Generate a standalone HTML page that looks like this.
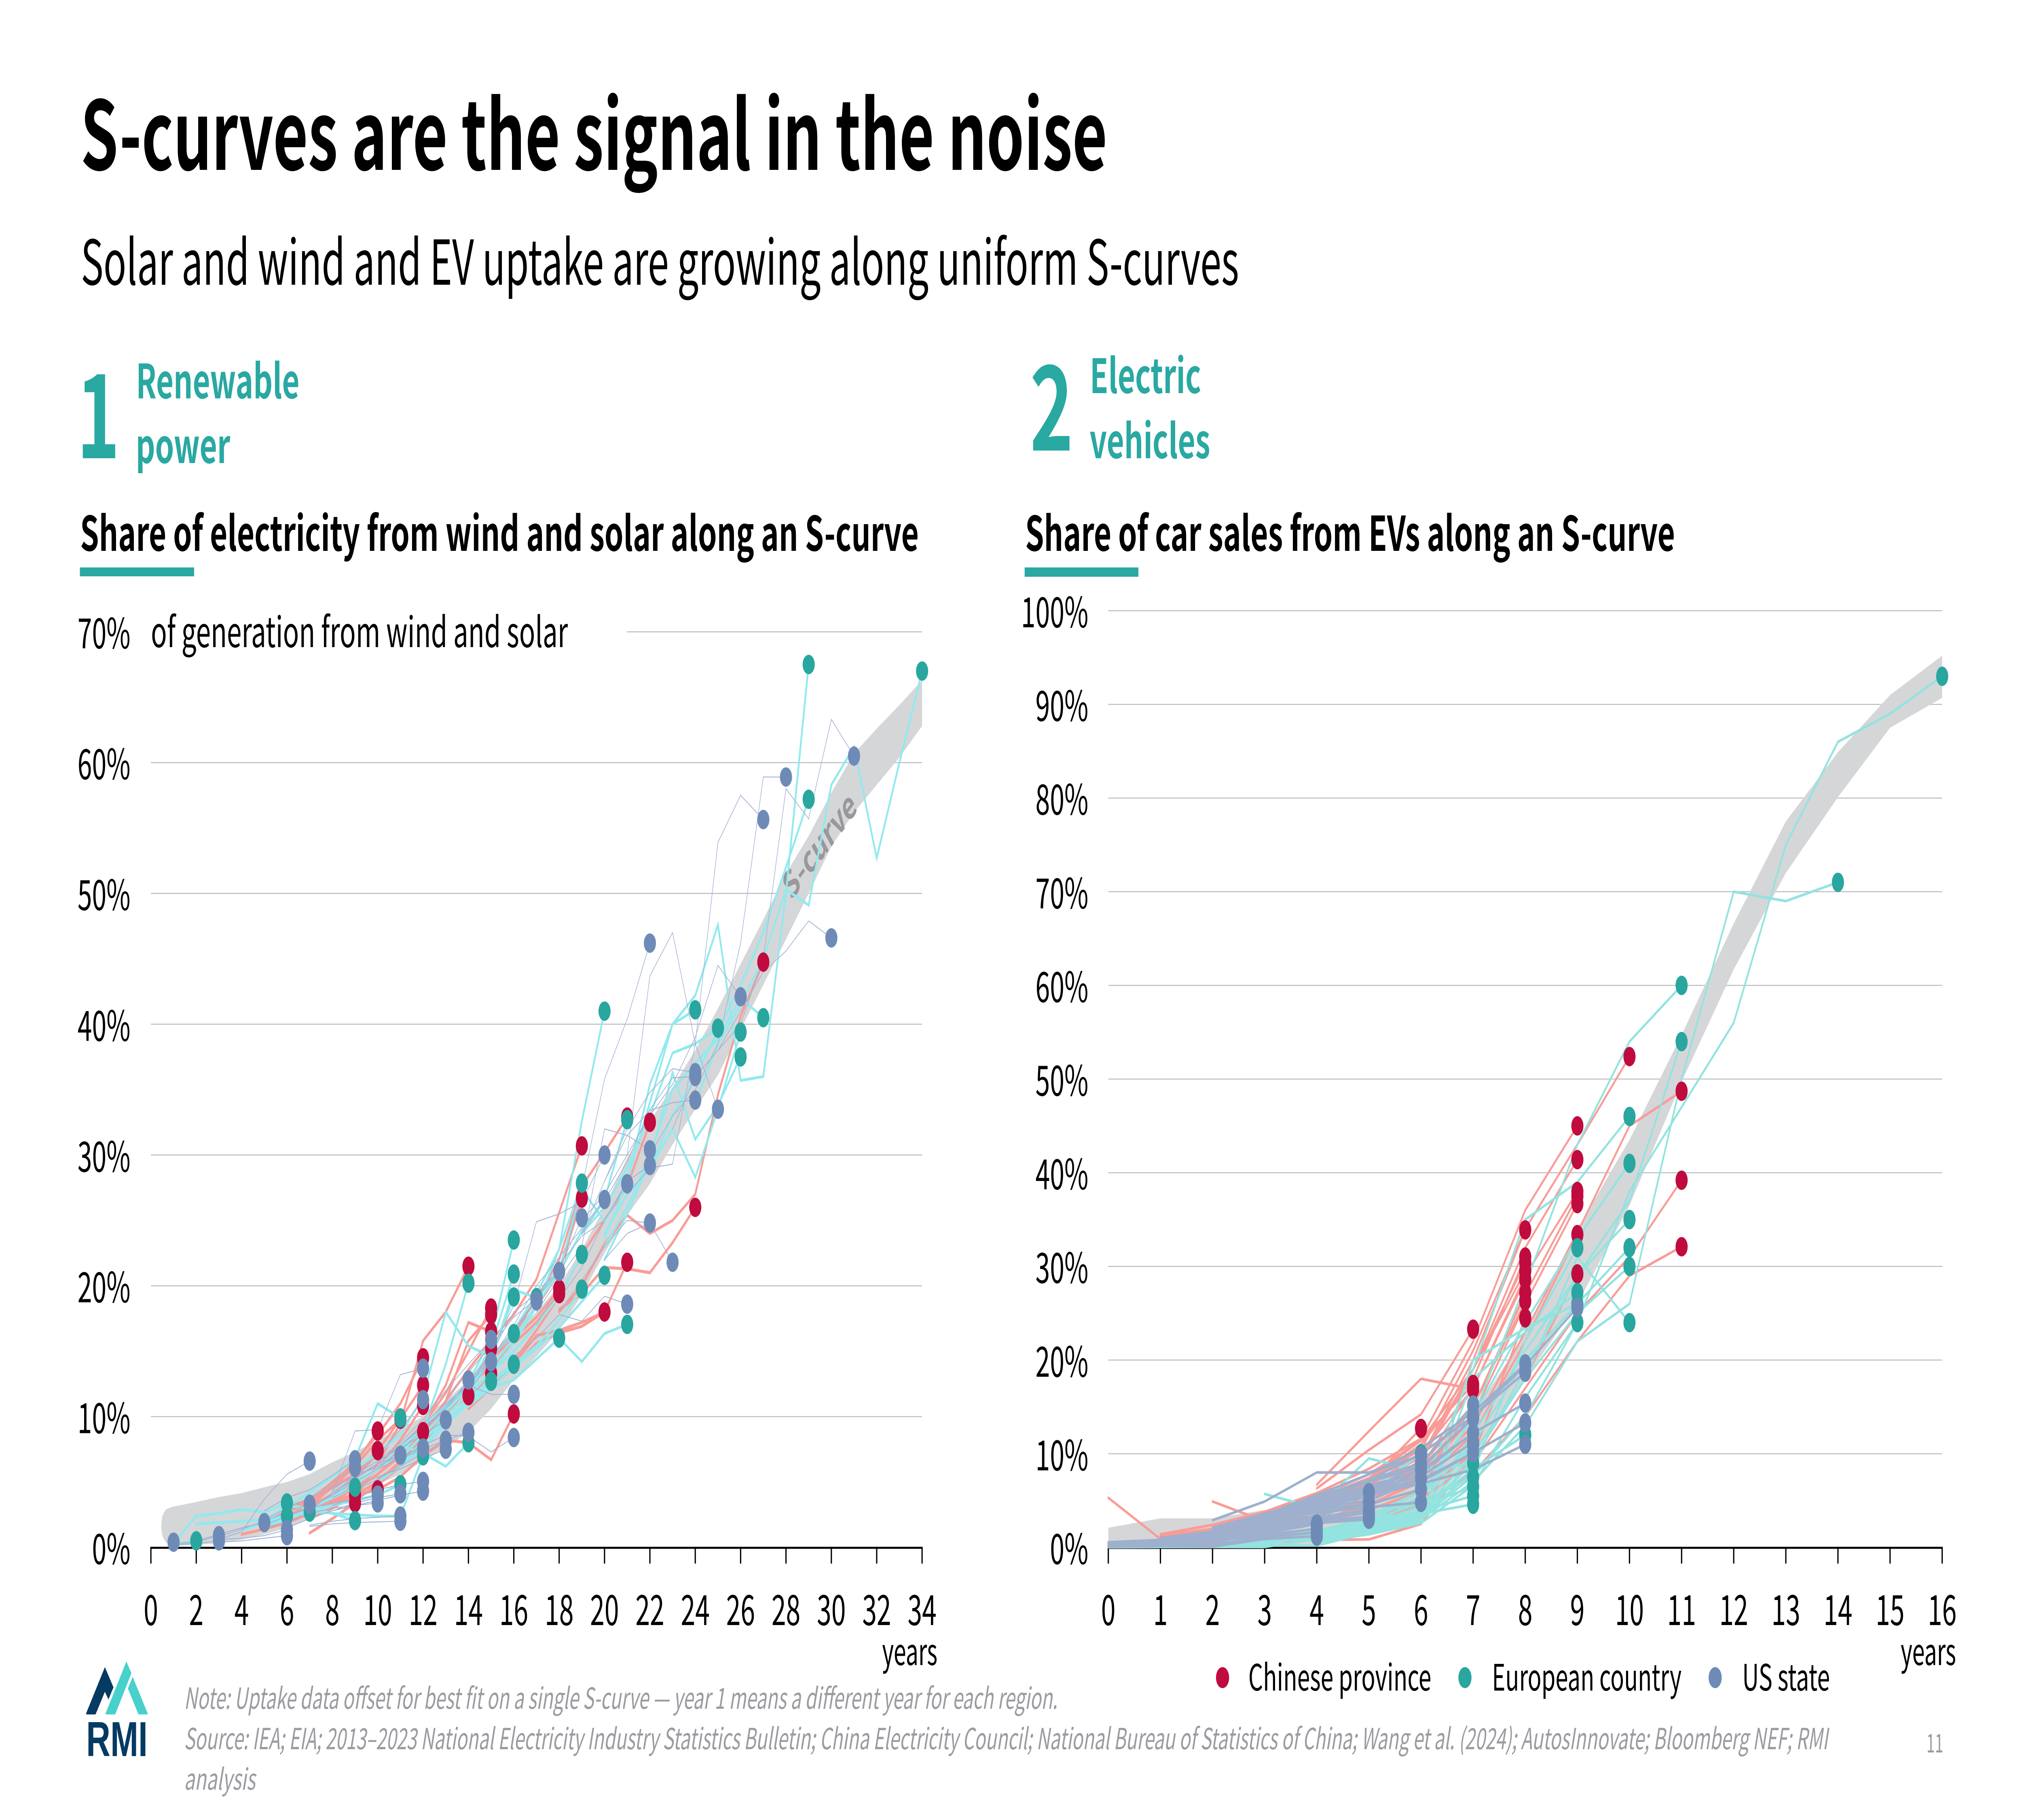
<!DOCTYPE html>
<html lang="en">
<head>
<meta charset="utf-8">
<title>S-curves are the signal in the noise</title>
<style>
html,body{margin:0;padding:0;background:#fff;width:100%;height:100%;overflow:hidden}
svg{display:block;width:100vw;height:100vh}
text{font-family:"Noto Sans CJK SC","Liberation Sans",sans-serif;fill:#000}
.teal{fill:#2aa8a2}
.bold{font-weight:700}
.grey{fill:#9b9ca1}
.ital{font-style:italic}
</style>
</head>
<body>
<svg id="slide" xmlns="http://www.w3.org/2000/svg" viewBox="0 0 8000 4500" preserveAspectRatio="none">
  <rect x="0" y="0" width="8000" height="4500" fill="#ffffff"/>
  <text class="bold" x="319" y="420" font-size="235" textLength="4062" lengthAdjust="spacingAndGlyphs">S-curves are the signal in the noise</text>
  <text x="320" y="704" font-size="153" textLength="4582" lengthAdjust="spacingAndGlyphs">Solar and wind and EV uptake are growing along uniform S-curves</text>

  <text class="teal bold" x="304" y="1133" font-size="288">1</text>
  <text class="teal bold" x="538" y="985" font-size="117" textLength="647" lengthAdjust="spacingAndGlyphs">Renewable</text>
  <text class="teal bold" x="537" y="1145" font-size="117" textLength="374" lengthAdjust="spacingAndGlyphs">power</text>
  <text class="bold" x="317" y="1362" font-size="118" textLength="3318" lengthAdjust="spacingAndGlyphs">Share of electricity from wind and solar along an S-curve</text>
  <rect x="316" y="1403" width="452" height="22" fill="#2aa8a2"/>

  <text class="teal bold" x="4075" y="1114" font-size="290">2</text>
  <text class="teal bold" x="4312" y="972" font-size="117" textLength="440" lengthAdjust="spacingAndGlyphs">Electric</text>
  <text class="teal bold" x="4311" y="1133" font-size="117" textLength="477" lengthAdjust="spacingAndGlyphs">vehicles</text>
  <text class="bold" x="4056" y="1362" font-size="118" textLength="2571" lengthAdjust="spacingAndGlyphs">Share of car sales from EVs along an S-curve</text>
  <rect x="4054" y="1403" width="450" height="23" fill="#2aa8a2"/>

  <text x="597" y="1600" font-size="103" textLength="1650" lengthAdjust="spacingAndGlyphs">of generation from wind and solar</text>

  <g id="chart-left"></g>
  <g id="chart-right"></g>

  <text x="3490" y="4117" font-size="91" textLength="219" lengthAdjust="spacingAndGlyphs">years</text>
  <text x="7520" y="4117" font-size="91" textLength="219" lengthAdjust="spacingAndGlyphs">years</text>

  <g>
    <circle cx="4837" cy="4148" r="26" fill="#c00b3f"/>
    <text x="4939" y="4180" font-size="90" textLength="724" lengthAdjust="spacingAndGlyphs">Chinese province</text>
    <circle cx="5796" cy="4148" r="26" fill="#29a69f"/>
    <text x="5903" y="4180" font-size="90" textLength="750" lengthAdjust="spacingAndGlyphs">European country</text>
    <circle cx="6786" cy="4148" r="26" fill="#6e8bb8"/>
    <text x="6893" y="4180" font-size="90" textLength="347" lengthAdjust="spacingAndGlyphs">US state</text>
  </g>

  <g>
    <polygon points="341,4236 415,4122 449,4172 429,4202 415,4183 378,4239 341,4239" fill="#053a63"/>
    <polygon points="418,4236 500,4108 520,4137 456,4239 418,4239" fill="#48d1cc"/>
    <polygon points="525,4146 584,4236 584,4239 548,4239 506,4175" fill="#48d1cc"/>
    <text x="341" y="4342" font-size="122" textLength="243" lengthAdjust="spacingAndGlyphs" style="font-family:'Liberation Sans',sans-serif;font-weight:700;fill:#053a63">RMI</text>
  </g>

  <text class="grey ital" x="728" y="4225" font-size="72" textLength="3456" lengthAdjust="spacingAndGlyphs">Note: Uptake data offset for best fit on a single S-curve — year 1 means a different year for each region.</text>
  <text class="grey ital" x="728" y="4325" font-size="72" textLength="6504" lengthAdjust="spacingAndGlyphs">Source: IEA; EIA; 2013–2023 National Electricity Industry Statistics Bulletin; China Electricity Council; National Bureau of Statistics of China; Wang et al. (2024); AutosInnovate; Bloomberg NEF; RMI</text>
  <text class="grey ital" x="728" y="4425" font-size="72" textLength="282" lengthAdjust="spacingAndGlyphs">analysis</text>
  <text class="grey" x="7622" y="4333" font-size="64" textLength="67" lengthAdjust="spacingAndGlyphs">11</text>
</svg>

<script>
/* ---------- chart 1: share of electricity from wind and solar ---------- */
const leftXTicks = [0,2,4,6,8,10,12,14,16,18,20,22,24,26,28,30,32,34];
const leftYTicks = [0,10,20,30,40,50,60,70];
const leftBandYears = [0.45,0.5,0.65,0.93,2,3,4,5,6,7,8,9,10,11,12,13,14,15,16,17,18,19,20,21,22,23,24,25,26,27,28,29,30,31,32,33,34];
const leftBandUpper = [1.6,2.4,2.9,3.1,3.47,3.85,4.15,4.6,5,5.6,6.5,7.3,8.2,9.1,10,11.2,12.8,14.5,16.4,18,20,22.8,26,29.8,32.6,35.2,38,41.2,44.6,48,51.5,54.4,57.7,60.7,62.6,64.4,66.3];
const leftBandLower = [1.6,0.9,0.4,0.1,0.2,0.3,0.6,1,1.5,2.2,3,3.8,4.8,5.6,6.6,7.6,8.8,10.6,12.8,14.6,16.6,19.3,22.5,25.4,27.8,30.8,33.5,36.1,39.6,43,46.5,50,53.6,56.2,58.3,60.4,62.8];
/* each series: first item is the start year, the rest are yearly % values; the last value carries the dot */
const leftChinaSeries = [
[4,1.0,1.4,1.9,2.6,3.4,4.0],[7,1.1,2.2,3.4],[5,1.6,2.3,3.0,3.6,4.0,4.4],[5,1.8,2.8,3.4,5.0,6.4,8.9],
[6,3.0,3.6,4.6,5.6,7.4],[6,2.4,3.2,4.6,6.2,8.2,9.8],[6,3.1,3.6,4.8,6.6,8.6,11.0,14.5],[7,3.2,4.0,5.2,7.4,9.8,12.4],
[7,2.6,3.4,4.6,6.0,8.2,10.85],[7,2.2,3.0,4.0,5.0,6.6,8.85],[9,3.8,6.4,9.5,15.8,18.0,21.5],[8,3.6,4.8,6.0,7.4,8.8,10.2,11.6],
[9,4.4,5.6,7,8.8,11.2,15.8,17.8],[9,4.6,6,7.6,9.4,12.4,17.2,16.5],[10,5.2,6.4,8,10,12.4,15.2],[9,3.6,4.8,6.2,7.6,9.4,11.4,13.3],
[10,5.6,7.4,9.4,11.8,15,18.3],[10,4.4,5.4,7,8.2,8,6.7,10.2],[11,6.4,8.4,10.4,12.6,14.4,16,17.6,19.75],[11,6.8,8.8,10.6,12.4,13.8,15.6,17.2,19.4],
[12,8.8,11.2,13.6,15.8,17.8,20.5,25.6,30.7],[12,8.2,10.6,12.6,14.6,16.4,18.4,21,26.7],[14,12.4,14.6,16.4,19,22,27.6,30.2,32.9],
[14,10.6,12.2,13.8,15.6,16.4,16.9,18,21.8],[15,12.4,14,16.2,16.6,17.2,18],[16,14.2,16.6,19.2,22.4,25,27.6,32.5],
[18,18.2,19.4,21.4,21.3,21,23.3,26],[18,18,20,23.2,25.4,24,25,27,34.6,40.6,44.75]
];
const leftEuropeSeries = [
[1,.3,2.4,2.6,2.9,2.7,3.4],[1,.2,.5],[2,1.8,1.9,2.0,2.1,2.4],[4,1.3,1.9,2.3,2.7],[5,2.0,3.2,3.0,2.6,2.05],[5,1.6,2.2,3,3.8,4.6],
[6,3.1,4.2,5.4,6.8,11,9.9],[7,2.8,3.2,3.6,4.0,4.8],[7,2.8,2.6,2.5,2.4,2.4,7.0],[8,4,5,6,7.2,9,14,20.2],[9,6,7.2,8.6,11.5,18,15.4,14.6,16.35],
[9,4.8,6,7.8,7.2,6.2,8],[10,5,6.2,7.6,9.4,11,12.7],[11,7.6,9.2,10.8,12.6,16,23.5],[11,6.8,8.6,10.4,12.2,15.4,20.9],[11,6.2,8.2,10,11.8,14.4,19.15],
[12,7.8,9.6,11.2,12.6,14],[12,8.6,10.4,12.2,14.4,19.7,19.1],[12,8.2,9.8,11,12.2,12.8,14.4,16],[13,10.6,12.4,14.4,16.6,19.4,22.8,27.85],
[13,10,11.8,13.4,15,17,19.2,22.4],[13,9.6,11.4,12.8,14,15.4,17.4,19.75],[14,11.6,13.4,15.6,18.4,22.8,32.6,41],[14,10.8,12.2,13.8,15.2,16.8,18.8,20.8],
[16,12.8,14.4,16,14.2,16.35,17.05],[15,13.8,16,18.6,21,24.2,26.6,32.7],[17,19,21.2,27.4,24.9,28,35.4,40,41.1],[19,24,26,29,33,37.8,38.5,39.7],
[20,24,27,29,32,28.3,33.5,39.4],[20,22,25.5,29.5,36.3,31.2,33.8,37.5],[20,23,26,30,35,37,38.9,42,40.5],[20,23.6,28,34,40,42.2,47.6,35.7,36,50,67.5],
[22,29,33,36,39.5,43,47,52,57.2],[24,34,38.5,41.5,45,50.3,49.1,58.3,61.2,52.7,60,67]
];
const leftUsSeries = [
[1,.4],[1,.3,.4,.9],[1,.2,.3,.5],[2,.5,1.0,1.5,1.9],[3,.6,.7,.9,1.35],[3,.4,.5,.7,.9],[3,.6,1.2,3.7,5.6,6.6],[3,.8,1.4,2,2.7,3.3],[5,2.8,3.8,4.4,5.5,6.7],
[5,2.1,3,3.8,5,6.1],[5,1.7,2.4,3,3.4,3.6,4],[5,1.4,2,2.6,3,3.2,3.4],[6,3,3.8,4.6,5.4,6.2,7.05],[6,1.5,2.2,2.8,3.4,3.8,4.1],[7,1.7,2,2.2,2.3,2.4],[7,1.6,1.8,1.9,1.95,2],
[7,2.8,4.2,8.9,9,13.2,13.7],[7,3,4,5.4,7,9,11.3],[8,4.2,5.4,6.4,7,7.6],[8,3.2,3.8,4.4,4.8,5.05],[8,2.8,3.2,3.6,4,4.3],[8,4.4,5.6,6.6,7.6,8.6,9.75],[8,4,5,6,6.8,7.5,8.2],[8,3.8,4.6,5.4,6,6.8,7.5],
[9,5.2,6.4,7.8,9.2,10.6,12.8],[9,4.4,5.2,6.2,7.2,8.2,8.8],[10,6.6,8,9.8,12,14,15.9],[10,6,7.4,9,10.8,12.6,14.2],[11,7.8,9.4,11,12.4,11.7,11.7],[11,6.8,7.8,8.6,8.5,7.3,8.4],
[12,9,10.6,12.4,14.4,16.4,18.85],[13,11.4,13.4,15.4,17.6,19,21.1],[13,10.8,12.6,14.8,18,19.4,21.2,25.2],[14,12.2,15,18.5,24.9,25.5,26.4,30],[14,11.8,14.4,17,20,22.2,24.4,26.6],
[15,14.6,16.6,19,21.6,23.8,25,27.8],[16,14.6,16,17.8,17.3,19.2,18.6],[17,17,20,27.5,35.8,40.4,46.2],[17,18,20.6,23,32,31.5,30.4],[18,19,21.4,25,28,29.2],[18,18,20.4,23,25,24.8],[20,22,24,24.8,21.8],
[19,25,27,30,43.7,47,38.5,33.5],[19,24,28,32,34.8,36.6,36.3],[19,24,26.5,29.5,33.5,35.9,36],[20,28,31.5,33.4,34,34.2],[21,30,33,35.4,39,44.5,42.1],[21,27,29,29.3,38.5,53.9,57.5,55.65],
[22,30,33,35,38.5,46.2,58.9,58.9],[23,32,36,38,41,44,45.6,47.9,46.6],[24,36,38,40,45,58,55.7,63.3,60.5]
];

/* ---------- chart 2: share of car sales from EVs ---------- */
const rightXTicks = [0,1,2,3,4,5,6,7,8,9,10,11,12,13,14,15,16];
const rightYTicks = [0,10,20,30,40,50,60,70,80,90,100];
const rightBandYears = [0,1,2,3,4,5,6,7,8,9,10,11,12,13,14,15,16];
const rightBandUpper = [2.1,3.1,3.1,4,4.7,6.3,8.7,14.2,22.8,34,43.5,54.7,66.6,77.5,84.9,91,95.2];
const rightBandLower = [-.2,-.2,-.2,-.2,.2,2,3.9,9.7,18,26,36.5,49.7,61.7,72,80.1,87.5,90.7];
const rightChinaSeries = [
[0,5.3,.9,1.4,2.2,3.4,5,7.4,15,26.3],[2,4.9,2.8,4.2,7,12.7],[4,6.7,12.4,18,16.9],[4,6.3,10.4,14.2,23.3],[1,1.4,2.4,3.8,5.4,7.8,11.4,17.4],
[1,1.2,2,3.4,4.8,7,11,18,31],[1,1,1.8,2.8,4.2,6.2,9.8,19,30.4],[2,2.4,3.6,5.2,7.4,11.4,19,29.5],[2,2.2,3.2,4.6,6.6,10,17,28.6],[2,1.6,2.4,4,5.8,8.8,15,27.2],
[3,.6,.8,.85,2.5,9.8,24.5],[3,3.8,5.8,8.4,11.6,22,36,45],[3,3.2,5,7.4,10.4,21,34,43,52.4],[3,3,4.6,6.8,9.6,20,33.9],[3,2.6,4.2,6.4,9.2,19,32,41.4],
[3,2.4,3.8,6,8.6,17,29,38],[3,2.2,3.4,5.6,8,15,27,37.5],[3,2,3.2,5.2,7.6,14,26,36.7],[4,2.8,4.6,7,12,22,33.4],[4,2.4,4,6,10,18,29.2],
[4,2.6,4.4,7.4,13,23,33.6,45,48.7],[5,3,5.2,9,17,25,31,39.2],[5,2.6,4.6,8,14,22,29,32.1]
];
const rightEuropeSeries = [
[3,5.7,4.2,9.5,8.1,9],[0,.1,.15,.2,.7,.9,1.4,3.6,4.6],[0,.1,.2,.3,.8,1.1,2,3.9,5.5],[0,.05,.15,.25,.5,1.1,2.4,4.4,6.5],[0,.15,.2,.3,.6,1.3,2.8,4.8,7.5],
[0,.03,.05,.05,.05,.9,2,5.6,14],[0,.2,.25,.4,.3,1.5,3.4,6,11],[1,.1,.05,.2,.2,1.6,3.8,8.4,12],[1,.3,.6,1.2,3,6,10],[3,1,1.8,3,6,19,35,39,46],
[4,1.2,2.6,5,14,24,33,41],[4,1,2.2,4.4,12,21,29,35],[4,.9,2,4,11,20,26,32],[4,.8,1.8,3.6,10,18,25,30],[4,.7,1.6,3.4,9.4,18,31,24],
[4,.9,1.8,3.4,8,22,32],[4,.8,1.6,3,18,23,27.2],[4,.7,1.5,2.8,20,23.4,26],[4,.6,1.4,2.6,6.6,16,24],[3,.8,1.6,3,5.4,14,28,43,54,60],
[4,.9,2,3.6,9,19,29,37,54],[4,.7,1.6,3,7,13,22,26,50,70,69,71],[4,.8,1.8,3.2,7.6,14,24,38,47,56,75,86,89,93]
];
const rightUsSeries = [
[0,.1,.15,.1,.9,1.2],[0,.2,.25,.3,1.1,1.6],[0,.3,.4,.7,1.3,2],[0,.4,.5,.9,1.5,2.5],[0,.15,.3,.5,1.7,2.6,3],[0,.25,.35,.8,1.9,2.8,3.3],[0,.35,.45,1,2.1,3,3.7],[0,.45,.6,1.1,2.3,3.2,4],
[1,.5,1.2,2.5,3.4,4.8],[1,.6,1.3,2.7,3.8,5.85],[0,.5,.7,1.4,2.9,3.7,4.3,4.8],[0,.55,.8,1.5,3,4,4.6,6.2],[1,.9,1.6,3.1,4.2,5,7.4],[1,1,1.7,3.2,4.4,5.4,8.3],[2,1.8,3.3,4.6,6,9],[2,2.9,4.9,8,8,9.8],
[2,1.9,3.4,4.7,5.8,7,10.1],[2,2,3.5,4.8,6.2,7.6,11.2],[2,2.1,3.6,5,6.6,8,12.2],[2,1.7,3.2,5.2,7,8.6,13.8],[3,3.6,5.2,7.2,9,15.2],[3,3,4.4,5.6,6.8,8.3,11],[3,3.1,4.6,6,7.2,10.1,13.3],[3,3.3,5,6.4,8.2,12.2,15.4],
[3,3.4,5.4,7.2,10,14,18.7],[3,3.5,5.6,7.8,10.6,14.4,19.6],[4,4,6,8.4,14,19.4,25.6]
];

const NS = 'http://www.w3.org/2000/svg';
function mk(parent, tag, attrs, txt) {
  const el = document.createElementNS(NS, tag);
  for (const k in attrs) el.setAttribute(k, attrs[k]);
  if (txt !== undefined) el.textContent = txt;
  parent.appendChild(el);
  return el;
}
function pts(xs, ys, sx, sy) { return xs.map((x, i) => sx(x).toFixed(1) + ',' + sy(ys[i]).toFixed(1)).join(' '); }

function drawSeries(g, list, sx, sy, color, width, lineName) {
  list.forEach(s => {
    const vals = s.slice(1);
    const years = vals.map((_, i) => s[0] + i);
    if (vals.length > 1) {
      const el = mk(g, 'polyline', {points: pts(years, vals, sx, sy), fill: 'none', stroke: color, 'stroke-width': width, 'stroke-linecap': 'round', 'stroke-linejoin': 'miter'});
      
      
    }
  });
}
function drawDots(g, list, sx, sy, color, dotName) {
  list.forEach(s => {
    const lastIndex = s.length - 2;
    const el = mk(g, 'circle', {cx: sx(s[0] + lastIndex).toFixed(1), cy: sy(s[s.length - 1]).toFixed(1), r: 24, fill: color});
    
    
  });
}
function drawAxes(g, sx, sy, xTicks, yTicks, x0, x1, labelRight, gridStartTop) {
  yTicks.forEach((v, i) => {
    if (v > 0) {
      const start = (i === yTicks.length - 1 && gridStartTop) ? gridStartTop : x0;
      const grid = mk(g, 'line', {x1: start, x2: x1, y1: sy(v), y2: sy(v), stroke: '#bdbdbf', 'stroke-width': 2.5});
      
      
    }
    const lab = mk(g, 'text', {x: labelRight, y: sy(v) + 41, 'font-size': 103, 'text-anchor': 'end'}, v + '%');
    
    
  });
}
function drawXAxis(g, sx, axisY, xTicks, x0, x1) {
  const ax = mk(g, 'line', {x1: x0 - 2.5, x2: x1 + 2.5, y1: axisY, y2: axisY, stroke: '#000', 'stroke-width': 5});
  
  
  xTicks.forEach(t => {
    const tk = mk(g, 'line', {x1: sx(t), x2: sx(t), y1: axisY, y2: axisY + 39, stroke: '#000', 'stroke-width': 5});
    
    
    const lab = mk(g, 'text', {x: sx(t), y: 4018, 'font-size': 103, 'text-anchor': 'middle'}, String(t));
    
    
  });
}
function drawBand(g, years, upper, lower, sx, sy) {
  const up = pts(years, upper, sx, sy);
  const lo = pts(years.slice().reverse(), lower.slice().reverse(), sx, sy);
  const el = mk(g, 'polygon', {points: up + ' ' + lo, fill: '#d5d6d8'});
  
  
}

/* left chart */
const leftX = y => 597 + y * 89.74;
const leftY = v => 3826 - v * 32.34;
const gL = document.getElementById('chart-left');
drawAxes(gL, leftX, leftY, leftXTicks, leftYTicks, 597, 3648, 516, 2480);
drawBand(gL, leftBandYears, leftBandUpper, leftBandLower, leftX, leftY);
drawXAxis(gL, leftX, 3827, leftXTicks, 597, 3648);
const scurve = mk(gL, 'text', {x: 3245, y: 2122, 'font-size': 92, 'font-weight': 700, 'text-anchor': 'middle', transform: 'rotate(-40.4 3245 2093)', textLength: 350, lengthAdjust: 'spacingAndGlyphs', style: 'fill:#98989d'}, 'S-curve');


drawSeries(gL, leftChinaSeries, leftX, leftY, '#f99c97', 7.5, 'line-chinese-province');
drawSeries(gL, leftEuropeSeries, leftX, leftY, '#92e9ee', 7, 'line-european-country');
drawSeries(gL, leftUsSeries, leftX, leftY, '#a0b2d2', 2.2, 'line-us-state');
drawDots(gL, leftChinaSeries, leftX, leftY, '#c00b3f', 'dot-chinese-province');
drawDots(gL, leftEuropeSeries, leftX, leftY, '#29a69f', 'dot-european-country');
drawDots(gL, leftUsSeries, leftX, leftY, '#6e8bb8', 'dot-us-state');

/* right chart */
const rightX = y => 4385 + y * 206.2;
const rightY = v => 3826 - v * 23.16;
const gR = document.getElementById('chart-right');
drawAxes(gR, rightX, rightY, rightXTicks, rightYTicks, 4385, 7684, 4306, null);
drawBand(gR, rightBandYears, rightBandUpper, rightBandLower, rightX, rightY);
drawXAxis(gR, rightX, 3827, rightXTicks, 4385, 7684);
drawSeries(gR, rightChinaSeries, rightX, rightY, '#f99c97', 6.5, 'line-chinese-province');
drawSeries(gR, rightEuropeSeries, rightX, rightY, '#93e3e0', 6.5, 'line-european-country');
drawSeries(gR, rightUsSeries, rightX, rightY, '#9eb0cd', 6.5, 'line-us-state');
drawDots(gR, rightChinaSeries, rightX, rightY, '#c00b3f', 'dot-chinese-province');
drawDots(gR, rightEuropeSeries, rightX, rightY, '#29a69f', 'dot-european-country');
drawDots(gR, rightUsSeries, rightX, rightY, '#6e8bb8', 'dot-us-state');
</script>
</body>
</html>
